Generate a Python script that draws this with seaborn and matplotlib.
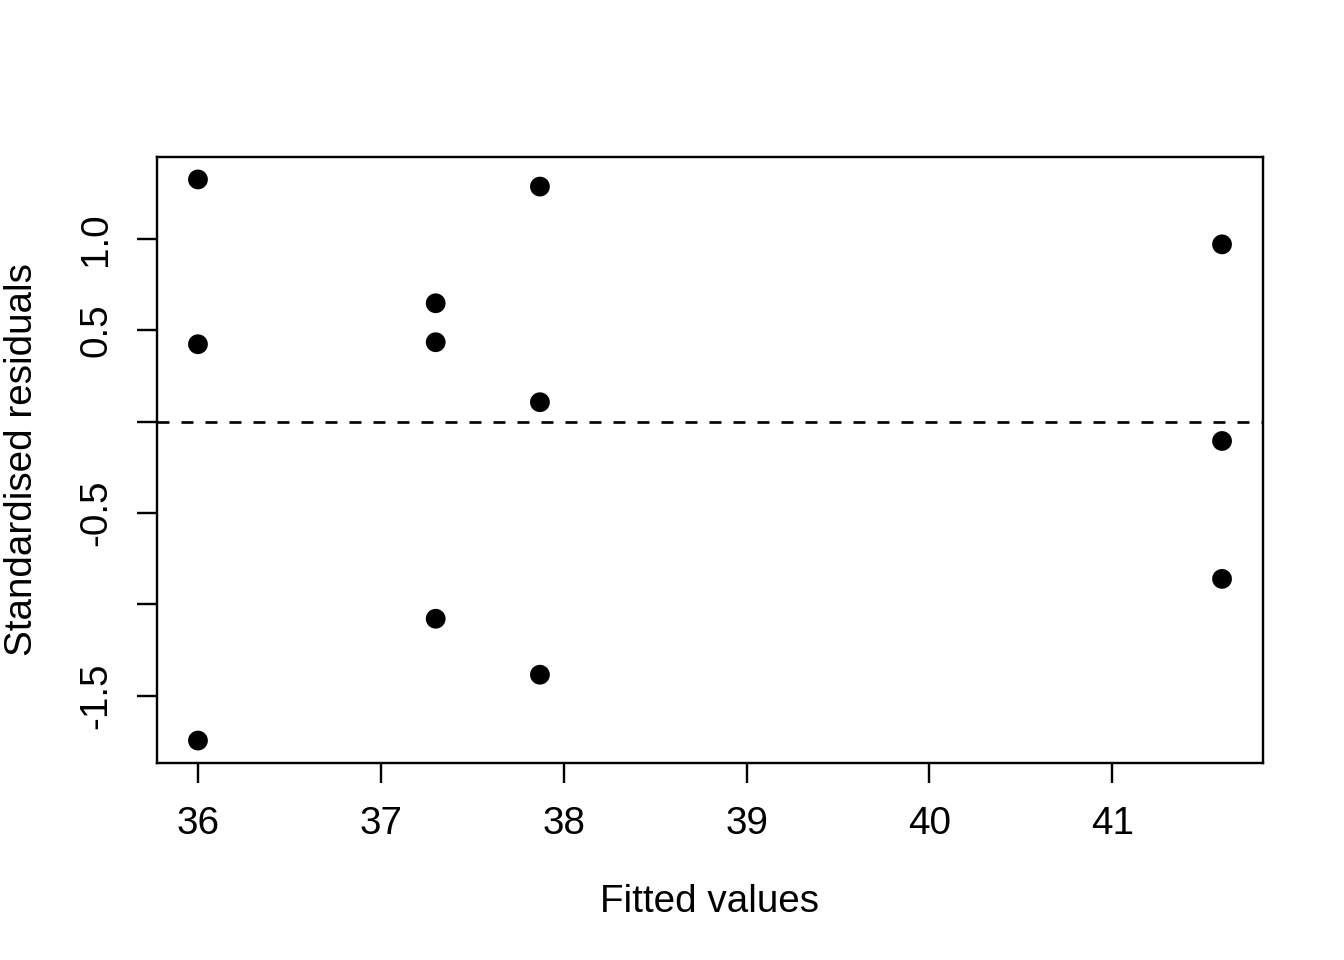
import matplotlib
matplotlib.use("Agg")
import numpy as np
import pandas as pd
import matplotlib.pyplot as plt
import seaborn as sns

# fitted values and standardised residuals
fitted = [36.0, 36.0, 36.0, 37.3, 37.3, 37.3, 37.87, 37.87, 37.87, 41.6, 41.6, 41.6]
std_resid = [1.324, 0.423, -1.744, 0.647, 0.434, -1.078, 1.285, 0.106, -1.384, 0.969, -0.106, -0.860]

x_ticks = [36, 37, 38, 39, 40, 41]
y_ticks = [-1.5, -1.0, -0.5, 0.0, 0.5, 1.0]
y_tick_labels = ["-1.5", "", "-0.5", "", "0.5", "1.0"]

df = pd.DataFrame({"fitted": fitted, "resid": std_resid})

sns.set_style("white")
plt.rcParams["font.family"] = ["Liberation Sans", "DejaVu Sans"]

fig = plt.figure(figsize=(7, 5), dpi=192)
ax = fig.add_axes([157 / 1344, 1 - 763 / 960, 1106 / 1344, 606 / 960])

sns.scatterplot(data=df, x="fitted", y="resid", ax=ax, color="black",
                s=55, edgecolor="none", zorder=3)
ax.axhline(0, color="black", linestyle=(0, (4.5, 4.5)), linewidth=1.0)

# R-style 4% expansion of data range
xr = max(fitted) - min(fitted)
yr = max(std_resid) - min(std_resid)
ax.set_xlim(min(fitted) - 0.04 * xr, max(fitted) + 0.04 * xr)
ax.set_ylim(min(std_resid) - 0.04 * yr, max(std_resid) + 0.04 * yr)

ax.set_xticks(x_ticks)
ax.set_xticklabels([str(t) for t in x_ticks])
ax.set_yticks(y_ticks)
ax.set_yticklabels(y_tick_labels, rotation=90, va="center")

ax.tick_params(axis="both", direction="out", length=7.5, width=0.9,
               labelsize=14.5, pad=8.5, colors="black", left=True, bottom=True)
for sp in ax.spines.values():
    sp.set_visible(True)
    sp.set_color("black")
    sp.set_linewidth(0.9)

ax.set_xlabel("Fitted values", fontsize=14.5, color="black")
ax.set_ylabel("Standardised residuals", fontsize=14.5, color="black")
ax.xaxis.set_label_coords(0.5, -0.2)
ax.yaxis.set_label_coords(-0.106, 0.5)

fig.savefig("out.png", dpi=192, facecolor="white")
